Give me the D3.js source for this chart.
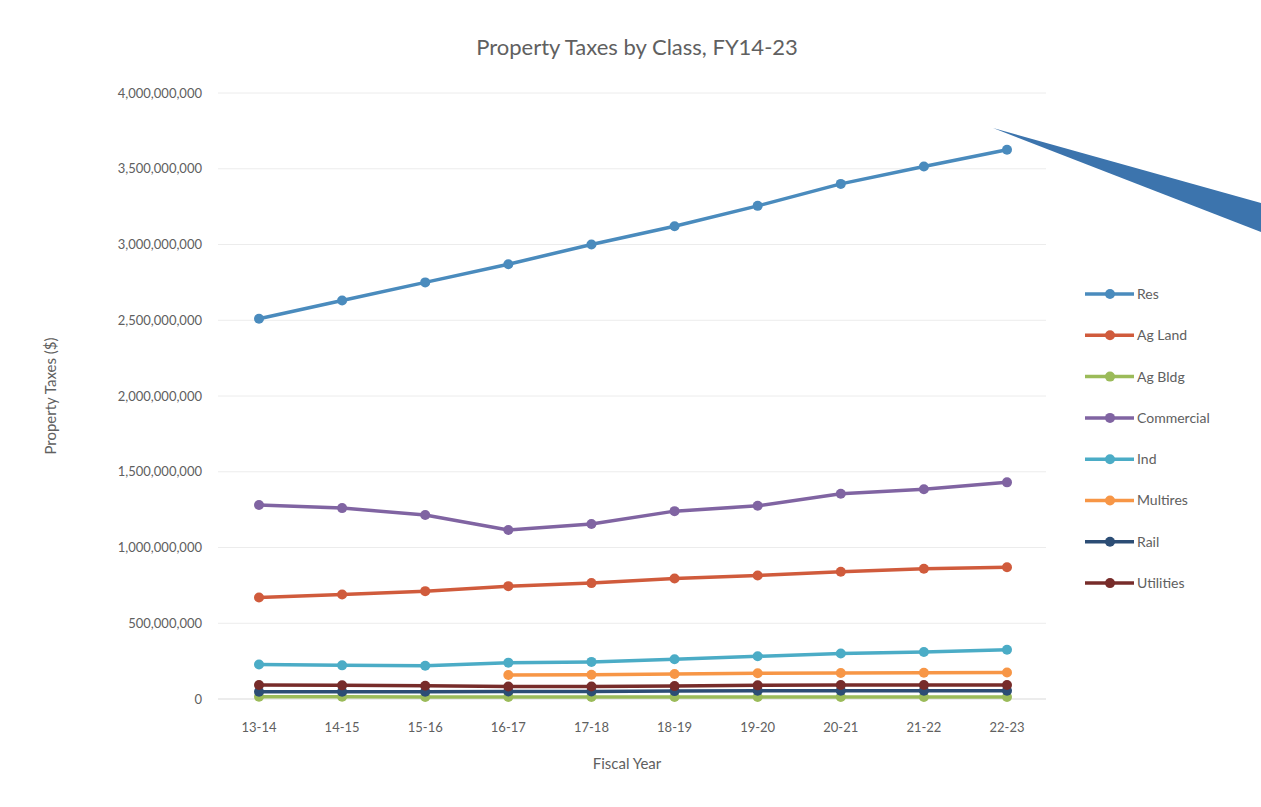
<!doctype html>
<html lang="en">
<head>
  <title>Property Taxes by Class</title>
  <script src="https://d3js.org/d3.v7.min.js"></script>
  <style>
    body { margin: 0px; background: #fff; }
    text { font-family: Lato, "Open Sans", sans-serif; fill: #606060; }
  </style>
</head>
<body>
  <div id="container"></div>
  <script>
    // fiscal years on the x axis
    var years = ["13-14", "14-15", "15-16", "16-17", "17-18", "18-19", "19-20", "20-21", "21-22", "22-23"];

    // series values (dollars), null where the class has no value
    var res        = [2510e6, 2630e6, 2750e6, 2870e6, 3000e6, 3120e6, 3255e6, 3400e6, 3515e6, 3625e6];
    var agLand     = [670e6, 690e6, 712e6, 745e6, 765e6, 795e6, 815e6, 840e6, 860e6, 870e6];
    var agBldg     = [15e6, 15e6, 14e6, 14e6, 14e6, 13e6, 13e6, 13e6, 13e6, 13e6];
    var commercial = [1280e6, 1260e6, 1215e6, 1115e6, 1155e6, 1240e6, 1275e6, 1355e6, 1385e6, 1430e6];
    var ind        = [228e6, 222e6, 220e6, 240e6, 245e6, 262e6, 282e6, 300e6, 310e6, 325e6];
    var multires   = [null, null, null, 158e6, 160e6, 165e6, 170e6, 172e6, 173e6, 175e6];
    var rail       = [48e6, 48e6, 48e6, 50e6, 50e6, 52e6, 55e6, 55e6, 55e6, 55e6];
    var utilities  = [92e6, 90e6, 88e6, 82e6, 82e6, 85e6, 90e6, 92e6, 92e6, 92e6];

    var yTicks = [0, 500e6, 1000e6, 1500e6, 2000e6, 2500e6, 3000e6, 3500e6, 4000e6];

    var seriesNames  = ["Res", "Ag Land", "Ag Bldg", "Commercial", "Ind", "Multires", "Rail", "Utilities"];
    var seriesValues = [res, agLand, agBldg, commercial, ind, multires, rail, utilities];
    var seriesColors = ["#4a8bbd", "#d05b3c", "#9bbb59", "#8064a2", "#4bacc6", "#f79646", "#2c4d75", "#772c2a"];

    var width = 1261, height = 807;

    var svg = d3.select("#container").append("svg")
      .attr("width", width)
      .attr("height", height);

    var x = d3.scalePoint().domain(years).range([259, 1007]);
    var y = d3.scaleLinear().domain([0, 4000e6]).range([699, 93]);

    // gridlines
    svg.append("g")
      .selectAll("line")
      .data(yTicks)
      .enter().append("line")
        .attr("x1", 218).attr("x2", 1046)
        .attr("y1", function(d) { return y(d); })
        .attr("y2", function(d) { return y(d); })
        .attr("stroke", function(d) { return d === 0 ? "#d9d9d9" : "#ececec"; })
        .attr("stroke-width", 1);

    // y tick labels
    svg.append("g")
      .selectAll("text")
      .data(yTicks)
      .enter().append("text")
        .attr("x", 202)
        .attr("y", function(d) { return y(d); })
        .attr("dy", "0.35em")
        .attr("text-anchor", "end")
        .style("font-size", "13px")
        .text(function(d) { return d3.format(",")(d); });

    // x tick labels
    svg.append("g")
      .selectAll("text")
      .data(years)
      .enter().append("text")
        .attr("x", function(d) { return x(d); })
        .attr("y", 732)
        .attr("text-anchor", "middle")
        .style("font-size", "13px")
        .text(function(d) { return d; });

    // title and axis titles
    svg.append("text")
      .attr("x", 637).attr("y", 55)
      .attr("text-anchor", "middle")
      .style("font-size", "22px")
      .text("Property Taxes by Class, FY14-23");

    svg.append("text")
      .attr("x", 627).attr("y", 769)
      .attr("text-anchor", "middle")
      .style("font-size", "15px")
      .text("Fiscal Year");

    svg.append("text")
      .attr("transform", "translate(56,396) rotate(-90)")
      .attr("text-anchor", "middle")
      .style("font-size", "15px")
      .text("Property Taxes ($)");

    // series lines and markers
    var line = d3.line()
      .defined(function(d) { return d.v != null; })
      .x(function(d) { return x(d.year); })
      .y(function(d) { return y(d.v); });

    seriesValues.forEach(function(vals, i) {
      var pts = vals.map(function(v, j) { return { year: years[j], v: v }; });
      var g = svg.append("g");
      g.append("path")
        .datum(pts)
        .attr("fill", "none")
        .attr("stroke", seriesColors[i])
        .attr("stroke-width", 3.5)
        .attr("stroke-linejoin", "round")
        .attr("d", line);
      g.selectAll("circle")
        .data(pts.filter(function(d) { return d.v != null; }))
        .enter().append("circle")
          .attr("cx", function(d) { return x(d.year); })
          .attr("cy", function(d) { return y(d.v); })
          .attr("r", 5)
          .attr("fill", seriesColors[i]);
    });

    // legend
    var legend = svg.append("g")
      .selectAll("g")
      .data(seriesNames)
      .enter().append("g")
        .attr("transform", function(d, i) { return "translate(1085," + (294 + i * 41.3) + ")"; });
    legend.append("line")
      .attr("x1", 0).attr("x2", 49)
      .attr("stroke", function(d, i) { return seriesColors[i]; })
      .attr("stroke-width", 3.5);
    legend.append("circle")
      .attr("cx", 25).attr("r", 5)
      .attr("fill", function(d, i) { return seriesColors[i]; });
    legend.append("text")
      .attr("x", 52).attr("dy", "0.35em")
      .style("font-size", "14px")
      .text(function(d) { return d; });

    // callout wedge pointing at the chart
    svg.append("path")
      .attr("d", "M993,128 L1261,203 L1261,232 Z")
      .attr("fill", "#3c74ad");
  </script>
</body>
</html>
